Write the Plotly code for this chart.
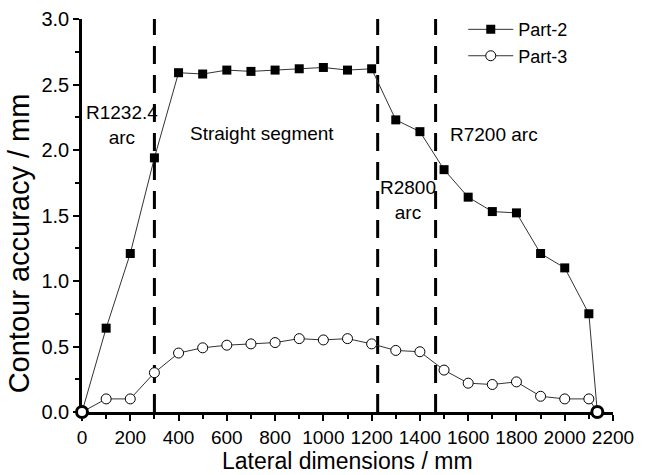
import plotly.graph_objects as go

# ---- data ----
x_part2 = [0, 100, 200, 300, 400, 500, 600, 700, 800, 900, 1000, 1100, 1200,
           1300, 1400, 1500, 1600, 1700, 1800, 1900, 2000, 2100, 2135]
y_part2 = [0.0, 0.64, 1.21, 1.94, 2.59, 2.58, 2.61, 2.60, 2.61, 2.62, 2.63, 2.61, 2.62,
           2.23, 2.14, 1.85, 1.64, 1.53, 1.52, 1.21, 1.10, 0.75, 0.0]

x_part3 = [0, 100, 200, 300, 400, 500, 600, 700, 800, 900, 1000, 1100, 1200,
           1300, 1400, 1500, 1600, 1700, 1800, 1900, 2000, 2100, 2135]
y_part3 = [0.0, 0.10, 0.10, 0.30, 0.45, 0.49, 0.51, 0.52, 0.53, 0.56, 0.55, 0.56, 0.52,
           0.47, 0.46, 0.32, 0.22, 0.21, 0.23, 0.12, 0.10, 0.10, 0.0]

boundaries = [300, 1225, 1465]

region_labels = ["R1232.4<br>arc", "Straight segment", "R2800<br>arc", "R7200 arc"]
region_label_x = [164, 746, 1351, 1709]
region_label_y = [2.19, 2.125, 1.62, 2.12]

x_ticks = list(range(0, 2201, 200))
y_ticks = [0.0, 0.5, 1.0, 1.5, 2.0, 2.5, 3.0]

FONT = "Arial, 'Liberation Sans', sans-serif"
LINE_COLOR = "#333333"

fig = go.Figure()

fig.add_trace(go.Scatter(
    x=x_part2, y=y_part2, mode="lines+markers", name="Part-2",
    line=dict(color=LINE_COLOR, width=1),
    marker=dict(symbol="square", size=9, color="black", line=dict(width=0)),
    cliponaxis=False,
))
fig.add_trace(go.Scatter(
    x=x_part3, y=y_part3, mode="lines+markers", name="Part-3",
    line=dict(color=LINE_COLOR, width=1),
    marker=dict(symbol="circle", size=10, color="white", line=dict(color="black", width=1)),
    cliponaxis=False,
))
# end points where both series meet the axis (drawn as heavy rings)
fig.add_trace(go.Scatter(
    x=[x_part3[0], x_part3[-1]], y=[y_part3[0], y_part3[-1]], mode="markers",
    showlegend=False, hoverinfo="skip",
    marker=dict(symbol="circle", size=11, color="white", line=dict(color="black", width=3)),
    cliponaxis=False,
))

for b in boundaries:
    fig.add_shape(type="line", x0=b, x1=b, y0=0, y1=3.0, xref="x", yref="y",
                  line=dict(color="black", width=3, dash="18px,11px"), layer="below")

for t, xx, yy in zip(region_labels, region_label_x, region_label_y):
    fig.add_annotation(x=xx, y=yy, xref="x", yref="y", text=t, showarrow=False,
                       font=dict(family=FONT, size=19, color="black"), align="center")

# axis titles as text placed like the reference
fig.add_annotation(x=-0.118, y=0.43, xref="paper", yref="paper", text="Contour accuracy / mm",
                   textangle=-90, showarrow=False, xanchor="center", yanchor="middle",
                   font=dict(family=FONT, size=29, color="black"))
fig.add_annotation(x=0.5, y=-0.124, xref="paper", yref="paper", text="Lateral dimensions / mm",
                   showarrow=False, xanchor="center", yanchor="middle",
                   font=dict(family=FONT, size=23, color="black"))

fig.update_layout(
    width=645, height=475,
    margin=dict(l=82, r=32, t=19, b=63, autoexpand=False),
    paper_bgcolor="white", plot_bgcolor="white",
    font=dict(family=FONT, color="black"),
    legend=dict(x=0.718, y=1.02, xanchor="left", yanchor="top", itemwidth=45,
                bgcolor="rgba(0,0,0,0)", font=dict(family=FONT, size=18, color="black"),
                tracegroupgap=0),
)

fig.update_xaxes(
    range=[0, 2200], tickvals=x_ticks, showgrid=False, zeroline=False, automargin=False,
    showline=True, linecolor="black", linewidth=2.5, layer="below traces",
    ticks="outside", ticklen=6, tickwidth=2, tickcolor="black",
    tickfont=dict(family=FONT, size=19, color="black"),
    minor=dict(dtick=100, ticks="outside", ticklen=4, tickwidth=2, tickcolor="black", showgrid=False),
)
fig.update_yaxes(
    range=[0, 3.0], tickvals=y_ticks, tickformat=".1f", showgrid=False, zeroline=False, automargin=False,
    showline=True, linecolor="black", linewidth=2.5, layer="below traces",
    ticks="outside", ticklen=6, tickwidth=2, tickcolor="black",
    tickfont=dict(family=FONT, size=20, color="black"),
    minor=dict(dtick=0.25, ticks="outside", ticklen=4, tickwidth=2, tickcolor="black", showgrid=False),
)

fig.write_html("out.html")
